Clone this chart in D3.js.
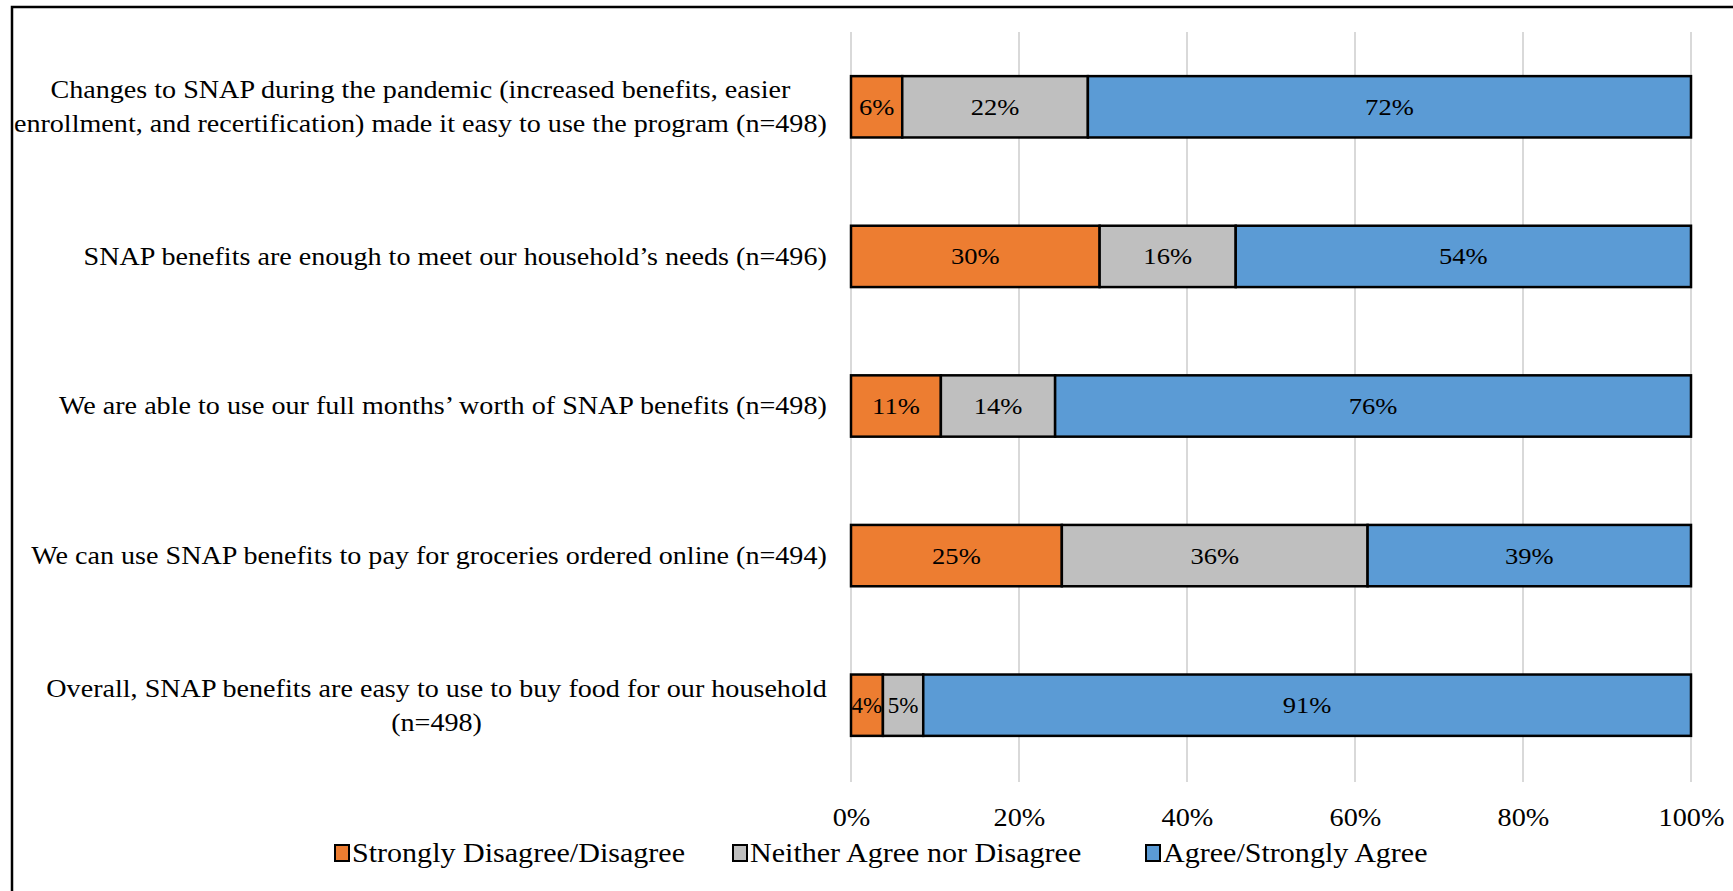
<!DOCTYPE html>
<html><head><meta charset="utf-8">
<script src="https://cdn.jsdelivr.net/npm/d3@7"></script>
<style>
html,body{margin:0;padding:0;background:#fff;}
svg text{font-family:"Liberation Serif","Times New Roman",serif;fill:#000;}
</style>
</head><body>
<svg id="chart" width="1733" height="891"></svg>
<script>
const categories = [
  ["Changes to SNAP during the pandemic (increased benefits, easier", "enrollment, and recertification) made it easy to use the program (n=498)"],
  ["SNAP benefits are enough to meet our household\u2019s needs (n=496)"],
  ["We are able to use our full months\u2019  worth of SNAP benefits (n=498)"],
  ["We can use SNAP benefits to pay for groceries ordered online (n=494)"],
  ["Overall, SNAP benefits are easy to use to buy food for our household", "(n=498)"]
];
const seriesNames = ["Strongly Disagree/Disagree", "Neither Agree nor Disagree", "Agree/Strongly Agree"];
const disagree = [6.1, 29.6, 10.7, 25.1, 3.8];
const neither = [22.1, 16.2, 13.6, 36.4, 4.8];
const agree = [71.8, 54.2, 75.7, 38.5, 91.4];
const colors = ["#ED7D31", "#BFBFBF", "#5B9BD5"];
const tickValues = [0, 20, 40, 60, 80, 100];

(function(){
const svg = d3.select("#chart");
const W = 1733, H = 891;
const mLeft = 851, mRight = 1691, mTop = 32, mBottom = 780;
const sx = 1.13;            // horizontal stretch of the reference lettering
const catFont = 24.9, legFont = 26.6, tickFont = 25, barFont = 23.5;

// frame
svg.append("path").attr("d", `M12,${H+2} L12,7 L${W+2},7`).attr("fill","none").attr("stroke","#000").attr("stroke-width",2.5);

const x = d3.scaleLinear().domain([0,100]).range([mLeft,mRight]);
const y = d3.scaleBand().domain(d3.range(categories.length)).range([mTop,mBottom]).paddingInner(0.59).paddingOuter(0.295);

// gridlines
svg.append("g").selectAll("line").data(tickValues).join("line")
  .attr("x1", d=>x(d)).attr("x2", d=>x(d)).attr("y1", mTop).attr("y2", mBottom+2)
  .attr("stroke", "#D9D9D9").attr("stroke-width", 2);

// x axis labels
const xAxis = d3.axisBottom(x).tickValues(tickValues).tickFormat(d=>d+"%").tickSize(0).tickPadding(0);
const gx = svg.append("g").attr("transform", `translate(0,${mBottom})`).call(xAxis);
gx.select(".domain").remove();
gx.selectAll("text").attr("font-family", "Liberation Serif").attr("font-size", tickFont)
  .attr("dy", null).attr("y", 0).attr("dominant-baseline","central")
  .attr("transform", `translate(0,38) scale(${sx},1)`).attr("fill","#000");

// stacked data
const rows = categories.map((c,i)=>({i, vals:[disagree[i], neither[i], agree[i]]}));
const stack = d3.stack().keys([0,1,2]).value((d,k)=>d.vals[k]);
const stacked = stack(rows);

const gBars = svg.append("g");
stacked.forEach((layer, k) => {
  layer.forEach((seg, i) => {
    const x0 = x(seg[0]), x1 = x(seg[1]);
    gBars.append("rect").attr("x", x0).attr("y", y(i)).attr("width", x1-x0).attr("height", y.bandwidth())
      .attr("fill", colors[k]).attr("stroke", "#000").attr("stroke-width", 2.5);
  });
});
stacked.forEach((layer, k) => {
  layer.forEach((seg, i) => {
    const v = seg[1]-seg[0];
    const cx = (x(seg[0])+x(seg[1]))/2, cy = y(i)+y.bandwidth()/2;
    svg.append("text").attr("transform", `translate(${cx},${cy}) scale(${v<5.5?0.98:sx},1)`)
      .attr("text-anchor","middle").attr("dominant-baseline","central")
      .attr("font-size", barFont)
      .text(Math.round(v)+"%");
  });
});

// category labels
const labelRight = 827;
const lineH = 34;
categories.forEach((lines, i) => {
  const g = svg.append("g");
  const cy = y(i) + y.bandwidth()/2;
  const ts = lines.map((ln, j) => g.append("text").attr("font-size", catFont)
      .attr("dominant-baseline","central").attr("text-anchor","middle")
      .attr("x", 0).attr("y", (j - (lines.length-1)/2)*lineH).text(ln));
  const maxW = d3.max(ts, t => t.node().getComputedTextLength());
  g.attr("transform", `translate(${labelRight - maxW*sx/2},${cy}) scale(${sx},1)`);
});

// legend
const legendX = [335, 733, 1146];
const legendY = 853;
seriesNames.forEach((name, k) => {
  svg.append("rect").attr("x", legendX[k]).attr("y", legendY-8).attr("width", 14).attr("height", 16)
    .attr("fill", colors[k]).attr("stroke", "#000").attr("stroke-width", 2);
  svg.append("text").attr("transform", `translate(${legendX[k]+17},${legendY}) scale(${sx},1)`)
    .attr("dominant-baseline","central")
    .attr("font-size", legFont).text(name);
});
})();
</script>
</body></html>
